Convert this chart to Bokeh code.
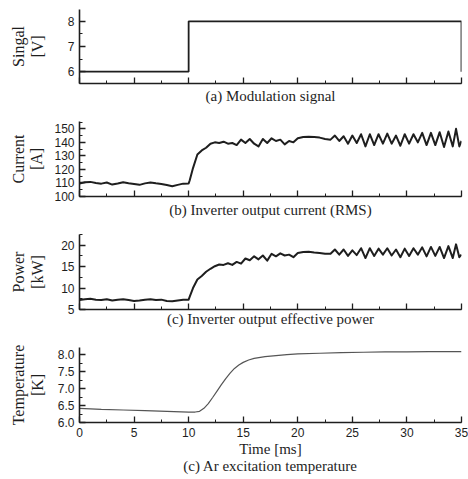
from bokeh.plotting import figure
from bokeh.layouts import column
from bokeh.models import SingleIntervalTicker, Range1d, PrintfTickFormatter
from bokeh.embed import file_html
from bokeh.resources import INLINE

# ---- data ----
t_sig = [0, 10, 10, 35, 35]
signal_v = [6, 6, 8, 8, 6]

t_inv = [0, 0.5, 1, 1.5, 2, 2.5, 3, 3.5, 4, 4.5, 5, 5.5, 6, 6.5, 7, 7.5, 8, 8.5, 9, 9.5, 10,
         10.1, 10.4, 10.8, 11.2, 11.6, 12, 12.4, 12.8, 13.2, 13.6, 14, 14.4, 14.8, 15.2, 15.6,
         16, 16.4, 16.8, 17.2, 17.6, 18, 18.4, 18.8, 19.2, 19.6, 20, 20.5, 21, 21.5, 22, 22.5, 23,
         23.4, 23.8, 24.2, 24.6, 25.0, 25.4, 25.8, 26.2, 26.6, 27.0, 27.4, 27.8, 28.2, 28.6,
         29.0, 29.4, 29.8, 30.2, 30.6, 31.0, 31.4, 31.8, 32.2, 32.6, 33.0, 33.4, 33.8, 34.2,
         34.5, 34.8, 35]
current_a = [109.5, 110.5, 110.8, 110, 109.5, 110.3, 108.8, 109.6, 110.5, 109.8, 109.2, 108.6,
             109.7, 110.4, 109.8, 109.3, 108.5, 107.6, 108.6, 109.5, 109.6,
             112, 121, 131, 134, 136, 139, 140, 139.5, 140.5, 139, 139.5, 138, 142, 139.5, 142.5,
             139, 137, 142.5, 139.5, 143, 141, 142, 138.5, 141, 140, 143, 144, 144.2, 144, 143.5,
             142.5, 142,
             145, 141, 144.5, 139, 145, 139.5, 146, 137, 146, 138, 146, 139, 146.5, 139, 145,
             137.5, 146, 139, 146, 140, 147, 138, 147, 138, 147.5, 136.5, 148, 137, 150, 137, 141]
power_kw = [7.2, 7.4, 7.5, 7.3, 7.2, 7.4, 7.1, 7.3, 7.4, 7.2, 7.0, 7.1, 7.3, 7.4, 7.2, 7.3, 7.0,
            6.9, 7.1, 7.3, 7.3,
            8, 10, 12, 12.8, 13.8, 14.5, 15.1, 15.5, 15.4, 15.8, 15.4, 16.1, 15.7, 16.9, 16.5,
            17.4, 16.7, 17.6, 16.4, 18.0, 17.4, 18.1, 17.6, 17.8, 17.2, 18.2, 18.4, 18.5, 18.3,
            18.2, 18.0, 18.0,
            19.0, 17.8, 19.0, 17.5, 18.8, 17.7, 19.3, 17.0, 19.3, 17.5, 19.2, 17.8, 19.3, 17.6,
            19.0, 17.2, 19.2, 17.5, 19.3, 17.8, 19.5, 17.4, 19.6, 17.5, 19.6, 17.0, 19.8, 17.0,
            20.2, 17.2, 17.8]

t_temp = [0, 2, 4, 6, 8, 10, 10.6, 11, 11.4, 11.8, 12.2, 12.6, 13, 13.4, 13.8, 14.2, 14.6, 15,
          15.5, 16, 17, 18, 19, 20, 22, 24, 26, 28, 30, 32, 35]
temp_k = [6.42, 6.39, 6.37, 6.35, 6.33, 6.31, 6.31, 6.33, 6.42, 6.56, 6.74, 6.93, 7.12, 7.3, 7.46,
          7.6, 7.7, 7.78, 7.85, 7.9, 7.95, 7.98, 8.01, 8.03, 8.05, 8.07, 8.08, 8.09, 8.09, 8.1, 8.1]

x_ticks = [0, 5, 10, 15, 20, 25, 30, 35]
y_labels = ["Singal\n[V]", "Current\n[A]", "Power\n[kW]", "Temperature\n[K]"]
captions = ["(a) Modulation signal", "(b) Inverter output current (RMS)",
            "(c) Inverter output effective power", "Time [ms]\n(c) Ar excitation temperature"]

SERIF = "Liberation Serif"
SANS = "Liberation Sans"
INK = "#1e1e1e"


def panel(height, yr, yint, ylabel, xlabel, ystandoff, btop, bbottom, xlabels=False, fmt=None,
          xstandoff=4):
    p = figure(width=468, height=height, x_range=Range1d(0, 35), y_range=Range1d(*yr),
               output_backend="svg", toolbar_location=None,
               min_border_left=79, min_border_right=7,
               min_border_top=btop, min_border_bottom=bbottom)
    p.outline_line_color = None
    p.grid.visible = False
    for ax in (p.xaxis[0], p.yaxis[0]):
        ax.axis_line_color = INK
        ax.axis_line_width = 1.6
        ax.major_tick_line_color = INK
        ax.minor_tick_line_color = INK
        ax.major_tick_line_width = 1.3
        ax.minor_tick_line_width = 1
        ax.major_tick_in = 6
        ax.major_tick_out = 0
        ax.minor_tick_in = 3
        ax.minor_tick_out = 0
        ax.major_label_text_font = SANS
        ax.major_label_text_font_size = "12px"
        ax.major_label_text_color = INK
        ax.axis_label_text_font = SERIF
        ax.axis_label_text_font_style = "normal"
        ax.axis_label_text_color = INK
    xa = p.xaxis[0]
    xa.ticker = SingleIntervalTicker(interval=5, num_minor_ticks=2)
    xa.axis_label = xlabel
    xa.axis_label_text_font_size = "15px"
    xa.axis_label_text_line_height = 1.1
    if xlabels:
        xa.major_label_standoff = 5
    else:
        xa.major_label_overrides = {v: "" for v in x_ticks}
        xa.major_label_standoff = 0
    xa.axis_label_standoff = xstandoff
    ya = p.yaxis[0]
    ya.ticker = SingleIntervalTicker(interval=yint, num_minor_ticks=2)
    ya.axis_label = ylabel
    ya.axis_label_text_font_size = "16px"
    ya.axis_label_text_line_height = 1.1
    ya.major_label_standoff = 5
    ya.axis_label_standoff = ystandoff
    if fmt:
        ya.formatter = PrintfTickFormatter(format=fmt)
    return p


pa = panel(117, (5.53, 8.47), 1, y_labels[0], captions[0], 19, 9, 34)
pa.line(t_sig, signal_v, line_color=INK, line_width=1.8)

pb = panel(113, (100, 155.4), 10, y_labels[1], captions[1], 6, 4, 34, xstandoff=5)
pb.line(t_inv, current_a, line_color=INK, line_width=2, line_join="round")

pc = panel(113, (5, 22.5), 5, y_labels[2], captions[2], 12, 4, 34, xstandoff=1)
pc.line(t_inv, power_kw, line_color=INK, line_width=2, line_join="round")

pd = panel(135, (6, 8.22), 0.5, y_labels[3], captions[3], 9, 4, 56, xlabels=True, fmt="%.1f",
           xstandoff=1)
pd.line(t_temp, temp_k, line_color="#555555", line_width=1.2)

layout = column(pa, pb, pc, pd, spacing=0)
open("out.html", "w").write(file_html(layout, INLINE))
